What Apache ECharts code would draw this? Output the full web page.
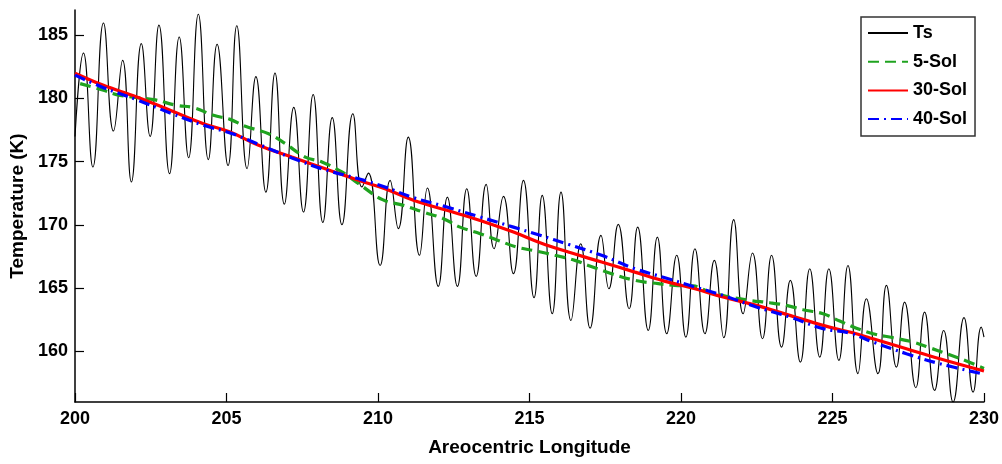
<!DOCTYPE html>
<html>
<head>
<meta charset="utf-8">
<script src="https://cdn.jsdelivr.net/npm/echarts@6.0.0/dist/echarts.min.js"></script>
<style>
html,body{margin:0;padding:0;background:#fff;}
#chart{width:1002px;height:464px;}
</style>
</head>
<body>
<div id="chart"></div>
<script>
// ---- Data ----
const xTicks = [200, 205, 210, 215, 220, 225, 230];
const yTicks = [160, 165, 170, 175, 180, 185];

// Ts: daily surface temperature cycle (peaks/troughs)
const tsX = [200.0,200.28,200.59,200.94,201.27,201.57,201.86,202.19,202.48,202.77,203.12,203.44,203.75,204.07,204.40,204.69,205.05,205.34,205.68,205.97,206.30,206.60,206.91,207.22,207.54,207.86,208.18,208.49,208.81,209.17,209.47,209.68,210.07,210.40,210.67,211.0,211.37,211.63,211.99,212.29,212.62,212.93,213.24,213.57,213.83,214.14,214.47,214.80,215.15,215.42,215.75,216.04,216.37,216.69,217.0,217.36,217.62,217.93,218.29,218.57,218.92,219.22,219.53,219.86,220.16,220.46,220.79,221.10,221.41,221.74,222.05,222.36,222.69,222.99,223.32,223.61,223.94,224.25,224.58,224.88,225.21,225.51,225.84,226.12,226.50,226.78,227.11,227.38,227.75,228.04,228.37,228.67,228.98,229.34,229.64,229.91,230.0];
const tsY = [177.0,183.6,174.58,185.97,177.43,183.02,173.4,184.34,177.0,185.8,174.06,184.87,175.32,186.66,175.17,184.29,174.7,185.75,174.45,181.73,172.6,182.02,171.65,179.3,171.02,180.32,170.2,178.49,170.02,178.8,173.0,174.1,166.8,173.53,169.71,176.95,167.6,172.92,165.14,172.2,165.14,172.87,165.93,173.21,168.12,172.26,166.15,173.53,164.25,172.34,162.98,172.6,162.45,168.52,161.84,169.18,164.96,170.05,163.38,169.83,161.66,169.04,161.4,167.6,161.13,168.12,161.4,167.2,161.08,170.42,162.98,167.78,161.0,167.6,160.34,165.62,159.15,166.54,159.55,166.54,159.29,166.8,158.24,164.17,158.24,165.22,158.76,163.9,157.13,163.11,156.92,161.66,156.0,162.67,156.78,161.92,161.13];

// 5-Sol running mean
const sol5X = [200.17,200.94,201.49,202.59,203.36,203.91,204.57,205.12,205.62,206.39,206.94,207.6,208.15,208.81,209.36,210.15,210.84,211.5,212.16,212.71,213.37,213.97,214.58,215.2,215.84,216.5,216.94,217.71,218.48,219.25,219.8,220.4,220.95,221.61,222.27,222.93,223.48,224.03,224.69,225.24,225.79,226.34,227.0,227.66,228.21,228.76,229.42,230];
const sol5Y = [181.18,180.65,180.25,179.91,179.46,179.28,178.67,178.35,177.8,177.22,176.43,175.37,174.98,174.19,173.27,172.0,171.55,171.02,170.5,169.83,169.31,168.78,168.25,167.95,167.6,167.2,166.8,166.15,165.62,165.36,165.22,165.18,164.69,164.3,164.03,163.85,163.64,163.3,162.98,162.4,161.84,161.4,161.08,160.74,160.29,159.82,159.24,158.65];

// 30-Sol and 40-Sol running means
const solLongX = [200,200.94,202.04,203.14,204.24,205.12,206.06,207.16,208.26,209.36,210.23,211.17,212.27,213.37,214.47,215.35,216.28,217.38,218.48,219.58,220.46,221.39,222.49,223.59,224.69,225.57,226.34,227.44,228.54,230];
const sol30Y = [182.0,181.04,180.12,179.07,178.01,177.35,176.3,175.37,174.45,173.53,172.87,171.95,171.16,170.36,169.44,168.6,167.86,167.07,166.27,165.48,164.96,164.3,163.64,162.85,162.06,161.53,161.0,160.21,159.42,158.45];
const sol40Y = [181.85,180.86,179.9,178.86,177.88,177.28,176.38,175.3,174.36,173.66,173.0,172.16,171.42,170.63,169.83,169.18,168.47,167.6,166.54,165.75,165.1,164.43,163.51,162.72,161.8,161.45,160.74,159.82,159.03,158.2];

const seriesNames = ['Ts', '5-Sol', '30-Sol', '40-Sol'];

function pairs(xs, ys) { return xs.map((x, i) => [x, ys[i]]); }

const FONT = "'Liberation Sans', Arial, Helvetica, sans-serif";

const chart = echarts.init(document.getElementById('chart'), null, {renderer: 'canvas'});
chart.setOption({
  animation: false,
  backgroundColor: '#ffffff',
  grid: {left: 75, right: 18, top: 10, bottom: 62, containLabel: false},
  legend: {
    data: seriesNames,
    orient: 'vertical',
    left: 861, top: 17,
    itemWidth: 40, itemHeight: 18, itemGap: 10.7,
    padding: [7, 8, 8, 6],
    backgroundColor: '#ffffff',
    borderColor: '#333333', borderWidth: 1.5, borderRadius: 0,
    itemStyle: {color: 'rgba(0,0,0,0)', borderWidth: 0, borderColor: 'rgba(0,0,0,0)', opacity: 0},
    textStyle: {fontFamily: FONT, fontWeight: 'bold', fontSize: 18, color: '#000'}
  },
  xAxis: {
    type: 'value', min: 200, max: 230, interval: 5,
    name: 'Areocentric Longitude', nameLocation: 'middle', nameGap: 36,
    nameTextStyle: {fontFamily: FONT, fontWeight: 'bold', fontSize: 19, color: '#000'},
    axisLine: {show: true, onZero: false, lineStyle: {color: '#000', width: 1.5}},
    axisTick: {show: true, inside: true, length: 9, lineStyle: {color: '#000', width: 1.2}, customValues: xTicks},
    axisLabel: {fontFamily: FONT, fontWeight: 'bold', fontSize: 18, color: '#000', margin: 8, customValues: xTicks},
    splitLine: {show: false}
  },
  yAxis: {
    type: 'value', min: 156, max: 187,
    name: 'Temperature (K)', nameLocation: 'middle', nameGap: 45,
    nameTextStyle: {fontFamily: FONT, fontWeight: 'bold', fontSize: 19, color: '#000'},
    axisLine: {show: true, onZero: false, lineStyle: {color: '#000', width: 1.5}},
    axisTick: {show: true, inside: true, length: 9, lineStyle: {color: '#000', width: 1.2}, customValues: yTicks},
    axisLabel: {fontFamily: FONT, fontWeight: 'bold', fontSize: 18, color: '#000', margin: 7, customValues: yTicks},
    splitLine: {show: false}
  },
  series: [
    {
      name: seriesNames[0], type: 'line', data: pairs(tsX, tsY),
      showSymbol: false, symbol: 'none', smooth: 0.5,
      lineStyle: {color: '#000000', width: 1.1},
      itemStyle: {color: '#000000'}, z: 1
    },
    {
      name: seriesNames[1], type: 'line', data: pairs(sol5X, sol5Y),
      showSymbol: false, symbol: 'none', smooth: 0.4,
      lineStyle: {color: '#1fa31f', width: 3.2, type: [11, 6]},
      itemStyle: {color: '#1fa31f'}, z: 2
    },
    {
      name: seriesNames[2], type: 'line', data: pairs(solLongX, sol30Y),
      showSymbol: false, symbol: 'none', smooth: 0.4,
      lineStyle: {color: '#ff0000', width: 3.2},
      itemStyle: {color: '#ff0000'}, z: 3
    },
    {
      name: seriesNames[3], type: 'line', data: pairs(solLongX, sol40Y),
      showSymbol: false, symbol: 'none', smooth: 0.4,
      lineStyle: {color: '#0000ff', width: 3.2, type: [11, 5, 2, 5]},
      itemStyle: {color: '#0000ff'}, z: 4
    }
  ]
});
</script>
</body>
</html>
